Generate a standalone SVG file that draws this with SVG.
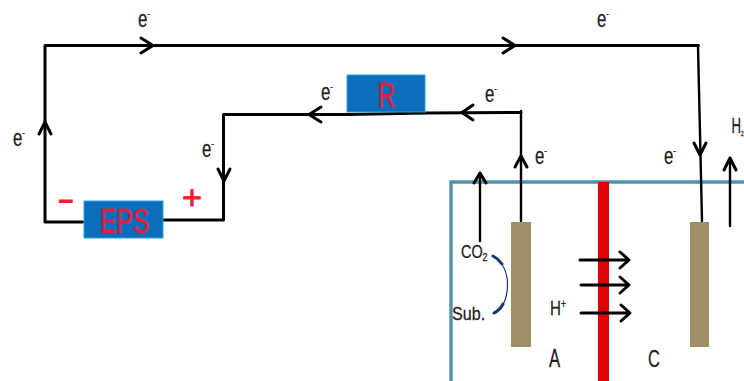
<svg xmlns="http://www.w3.org/2000/svg" width="744" height="381" viewBox="0 0 744 381">
<style>
text{font-family:"Liberation Sans",Arial,sans-serif;fill:#222;stroke:#222;stroke-width:.3}
.w{fill:none;stroke:#000;stroke-width:3;stroke-linejoin:round;stroke-linecap:round}
.t{fill:none;stroke:#000;stroke-width:2.4;stroke-linecap:round;stroke-linejoin:round}
.e{font-size:24px}
.s{font-size:11px}
.el{fill:#a08f66}
.box{fill:#0b6dbb;stroke:#2aa3dc;stroke-width:1}
.rl{fill:#dc1f3f;stroke:#dc1f3f;stroke-width:.9}
</style>
<g id="chamber"><path d="M451 381V182H744" fill="none" stroke="#4f93aa" stroke-width="3.4"/></g>
<g id="membrane"><rect x="598" y="182" width="11" height="199" fill="#e20000"/></g>
<g id="connectors">
<path class="w" d="M83 222H45V45.500H698.500"/>
<path class="w" d="M163 220H223.500V114.500H347L426 113L521 112.500"/>
<path class="t" d="M521 111V221"/>
<path class="t" d="M698 46L702 221"/>
<path class="t" d="M480 241V173"/>
<path class="t" d="M730 226V158"/>
<path class="w" d="M141 38L153 45.500L141 53M503 38L515 45.500L503 53"/>
<path class="w" d="M39 134L45 122L51 134"/>
<path class="w" d="M218 169L224 181L230 169"/>
<path class="w" d="M321 107L309 114.500L321 122M473 105L462 112.500L473 120"/>
<path class="w" d="M515 167L521 156L527 167"/>
<path class="w" d="M694 143L700 155L706 143"/>
<path class="w" d="M474 183L480 173L486 183"/>
<path class="w" d="M724 170L730 158L736 170"/>
<path class="w" d="M580 260H628M620 252L629 260L620 268"/>
<path class="w" d="M581 285H628M620 277L629 285L620 293"/>
<path class="w" d="M581 313H629M621 305L630 313L621 321"/>
<path d="M493 256C503 261 508 274 507.500 286C507 299 502 309 494 313" fill="none" stroke="#123a78" stroke-width="1.2"/>
<path d="M493 256C497 258 500 261 502 264M494 313C498 311 501 308 503 304" fill="none" stroke="#123a78" stroke-width="3" stroke-linecap="round"/>
</g>
<g id="anode"><rect class="el" x="511" y="222" width="20" height="125"/></g>
<g id="cathode"><rect class="el" x="690" y="222" width="19" height="125"/></g>
<g id="R"><rect class="box" x="347" y="75" width="78" height="37"/><text class="rl" x="378" y="107" font-size="35" textLength="17" lengthAdjust="spacingAndGlyphs">R</text></g>
<g id="EPS"><rect class="box" x="84" y="201" width="79" height="37"/><text class="rl" x="100" y="233" font-size="35" textLength="49" lengthAdjust="spacingAndGlyphs">EPS</text></g>
<g id="labels">
<text x="58" y="211" font-size="30" style="fill:#f01d2c;stroke:none" font-weight="700" textLength="16" lengthAdjust="spacingAndGlyphs">−</text>
<text x="182" y="209" font-size="33" style="fill:#f01d2c;stroke:#f01d2c;stroke-width:.8" textLength="20" lengthAdjust="spacingAndGlyphs">+</text>
<text class="e" transform="translate(138 27) scale(.7 1)">e<tspan class="s" dy="-10">-</tspan></text>
<text class="e" transform="translate(597 27) scale(.7 1)">e<tspan class="s" dy="-10">-</tspan></text>
<text class="e" transform="translate(321 100) scale(.7 1)">e<tspan class="s" dy="-10">-</tspan></text>
<text class="e" transform="translate(485 102) scale(.7 1)">e<tspan class="s" dy="-10">-</tspan></text>
<text class="e" transform="translate(13 146) scale(.7 1)">e<tspan class="s" dy="-10">-</tspan></text>
<text class="e" transform="translate(202 157) scale(.7 1)">e<tspan class="s" dy="-10">-</tspan></text>
<text class="e" transform="translate(535 164) scale(.7 1)">e<tspan class="s" dy="-10">-</tspan></text>
<text class="e" transform="translate(664 164) scale(.7 1)">e<tspan class="s" dy="-10">-</tspan></text>
<text font-size="22" transform="translate(731.500 133) scale(.6 1)">H<tspan font-size="8" dy="3">2</tspan></text>
<text font-size="18" transform="translate(461 258) scale(.8 1)">CO<tspan font-size="11" dy="3">2</tspan></text>
<text font-size="19" transform="translate(452 320) scale(.85 1)">Sub.</text>
<text font-size="21" transform="translate(550 315) scale(.72 1)">H<tspan font-size="12" dy="-7">+</tspan></text>
<text font-size="25" transform="translate(549 367) scale(.67 1)">A</text>
<text font-size="24" transform="translate(648 367) scale(.68 1)">C</text>
</g>
</svg>
